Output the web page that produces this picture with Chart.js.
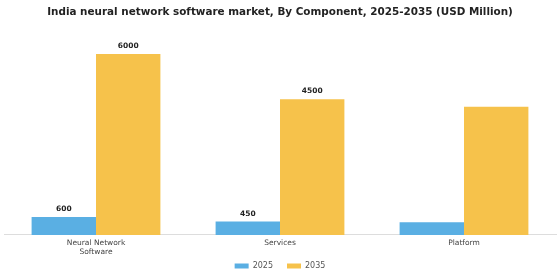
<!DOCTYPE html>
<html>
<head>
<meta charset="utf-8">
<script src="https://cdn.jsdelivr.net/npm/chart.js@4"></script>
<style>
  body { margin: 0; background: #fff; }
  #wrap { width: 560px; height: 280px; }
</style>
</head>
<body>
<div id="wrap"><canvas id="myChart"></canvas></div>
<script>
const categorias = [['Neural Network', 'Software'], 'Services', 'Platform'];
const valores2025 = [600, 450, 420];
const valores2035 = [6000, 4500, 4250];
// etiquetas que se muestran encima de las barras (null = sin etiqueta)
const etiquetas2025 = ['600', '450', null];
const etiquetas2035 = ['6000', '4500', null];

const etiquetasPlugin = {
  id: 'etiquetas',
  afterUpdate(chart) {
    // no recortar las etiquetas del eje x (se acorto su alto en afterFit)
    chart.scales.x._computeLabelArea = () => undefined;
  },
  afterDatasetsDraw(chart) {
    const ctx = chart.ctx;
    const listas = [etiquetas2025, etiquetas2035];
    ctx.save();
    ctx.font = 'bold 7.5px "DejaVu Sans"';
    ctx.fillStyle = '#222';
    ctx.textAlign = 'center';
    ctx.textBaseline = 'bottom';
    chart.data.datasets.forEach((ds, i) => {
      const meta = chart.getDatasetMeta(i);
      meta.data.forEach((bar, j) => {
        const txt = listas[i][j];
        if (txt) ctx.fillText(txt, bar.x, bar.y - 4);
      });
    });
    ctx.restore();
  }
};

new Chart(document.getElementById('myChart'), {
  type: 'bar',
  data: {
    labels: categorias,
    datasets: [
      { label: '2025', data: valores2025, backgroundColor: '#5AAFE3' },
      { label: '2035', data: valores2035, backgroundColor: '#F6C24B' }
    ]
  },
  options: {
    responsive: true,
    maintainAspectRatio: false,
    animation: false,
    layout: { padding: { left: 4, right: 4, top: 4, bottom: 0 } },
    datasets: { bar: { categoryPercentage: 0.7, barPercentage: 1.0 } },
    plugins: {
      title: {
        display: true,
        text: 'India neural network software market, By Component, 2025-2035 (USD Million)',
        font: { family: 'DejaVu Sans', size: 10.4, weight: 'bold' },
        color: '#222',
        padding: { top: 2, bottom: 9 }
      },
      legend: {
        position: 'bottom',
        labels: {
          boxWidth: 14,
          boxHeight: 5,
          font: { family: 'DejaVu Sans', size: 8 },
          color: '#555',
          padding: 14
        }
      },
      tooltip: { enabled: false }
    },
    scales: {
      x: {
        grid: { display: false, drawTicks: false },
        border: { display: true, color: '#ddd' },
        ticks: { font: { family: 'DejaVu Sans', size: 7.5 }, color: '#444', padding: 4 },
        afterFit(scale) { scale.height -= 13; }
      },
      y: {
        display: false,
        beginAtZero: true,
        max: 6880
      }
    }
  },
  plugins: [etiquetasPlugin]
});
</script>
</body>
</html>
